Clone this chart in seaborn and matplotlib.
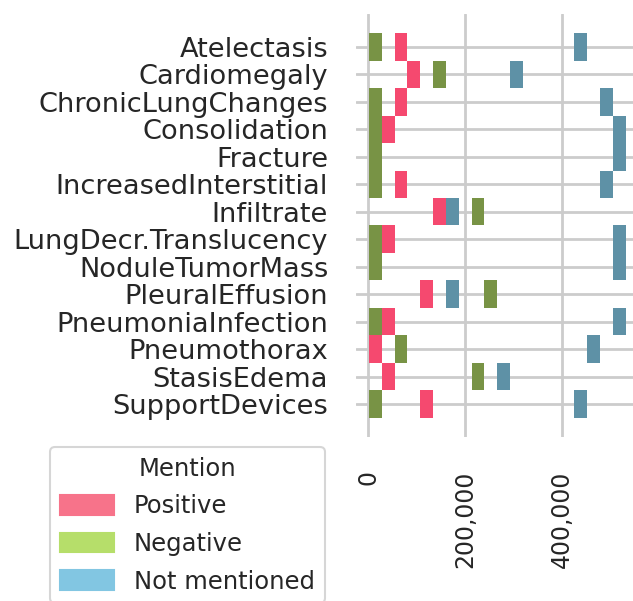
import matplotlib
matplotlib.use("Agg")
import matplotlib.pyplot as plt
import matplotlib.ticker as mticker
import numpy as np
import pandas as pd
import seaborn as sns

findings = ["Atelectasis", "Cardiomegaly", "ChronicLungChanges", "Consolidation",
            "Fracture", "IncreasedInterstitial", "Infiltrate", "LungDecr.Translucency",
            "NoduleTumorMass", "PleuralEffusion", "PneumoniaInfection", "Pneumothorax",
            "StasisEdema", "SupportDevices"]
positive = [66000, 93000, 64000, 38000, 9000, 62000, 145000, 36000,
            21000, 119000, 40000, 16000, 41000, 118000]
negative = [14000, 146000, 8000, 12000, 800, 11000, 225000, 6000,
            1200, 252000, 15000, 68000, 226000, 15000]
not_mentioned = [437000, 305000, 491000, 514000, 531000, 490000, 172000, 521000,
                 519000, 172000, 508000, 463000, 279000, 438000]
mentions = ["Positive", "Negative", "Not mentioned"]
palette = ["#f7738a", "#b6de6a", "#82c6e2"]

rows = []
for name, p, n, m in zip(findings, positive, negative, not_mentioned):
    rows.append((name, "Positive", p))
    rows.append((name, "Negative", n))
    rows.append((name, "Not mentioned", m))
df = pd.DataFrame(rows, columns=["Finding", "Mention", "Count"])

sns.set_theme(style="whitegrid", context="talk", rc={"grid.linewidth": 2.0})
plt.rcParams["font.family"] = ["DejaVu Sans"]

fig = plt.figure(figsize=(6.33, 6.01), dpi=100)
ax = fig.add_axes([356 / 633, 1 - 437 / 601, 282.5 / 633, 423 / 601])

sns.histplot(data=df, x="Count", y="Finding", hue="Mention", hue_order=mentions,
             palette=palette, bins=20, ax=ax)

ax.use_sticky_edges = False
ax.margins(0.05)
ax.autoscale_view()

ax.set_xlabel("")
ax.set_ylabel("")
ax.xaxis.set_major_locator(mticker.MultipleLocator(200000))
ax.xaxis.set_major_formatter(mticker.StrMethodFormatter("{x:,.0f}"))
ax.tick_params(axis="x", labelrotation=90, labelsize=17, pad=15)
ax.tick_params(axis="y", labelsize=19.6, pad=11)
sns.despine(ax=ax, left=True, bottom=True)

sns.move_legend(ax, "upper left", bbox_to_anchor=(50 / 633, 1 - 447 / 601),
                bbox_transform=fig.transFigure, borderaxespad=0,
                fontsize=17.5, title_fontsize=17.5, handlelength=2.25, handleheight=0.85,
                labelspacing=0.56, frameon=True)

fig.savefig("out.png", dpi=100)
